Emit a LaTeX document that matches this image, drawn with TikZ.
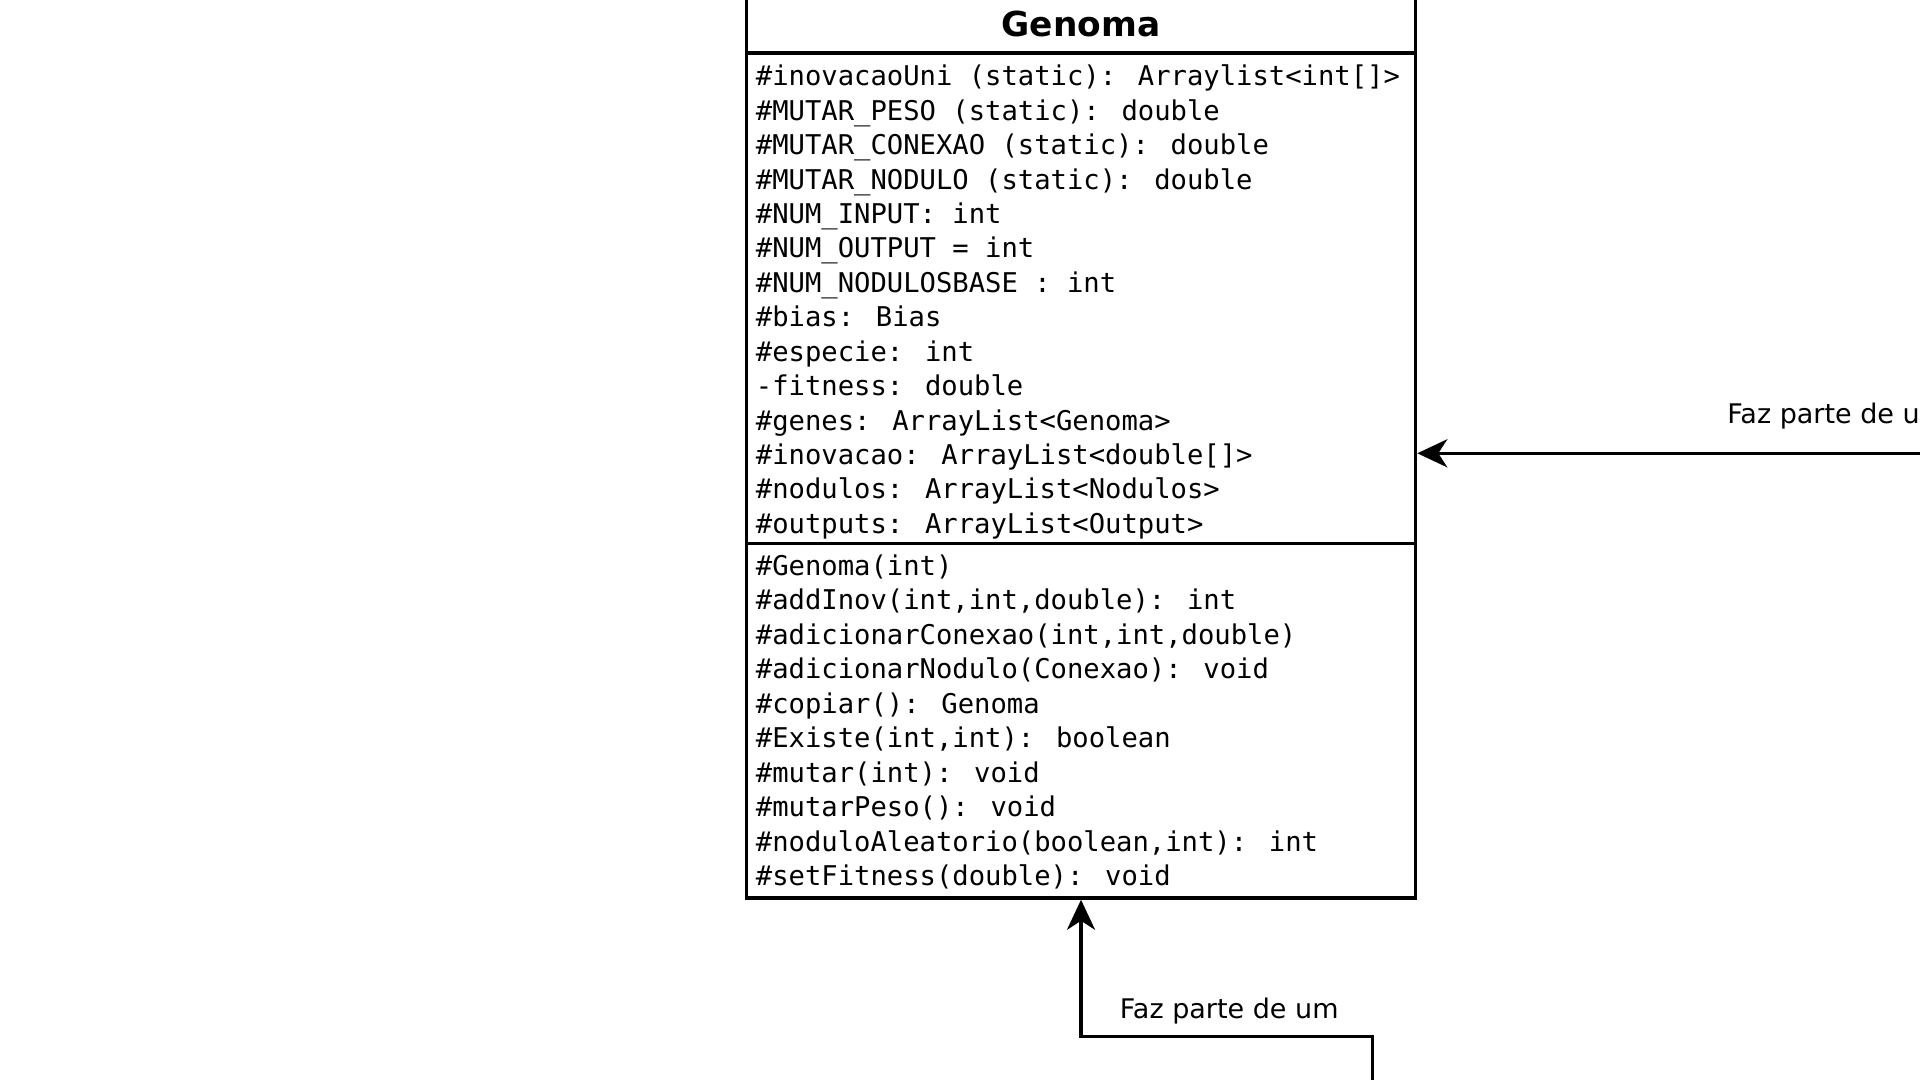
\documentclass[tikz,border=0pt]{standalone}
\usepackage{fontspec}
\setmainfont{DejaVu Sans}
\newfontfamily\umlmono{DejaVu Sans Mono}
\usetikzlibrary{arrows.meta}
\begin{document}
\begin{tikzpicture}[x=0.5pt,y=-0.5pt,
  classbox/.style={draw, line width=1.75pt, minimum width=334.5pt, minimum height=451.5pt, inner sep=0pt},
  rule/.style={line width=1.75pt},
  member/.style={anchor=base west, inner sep=0pt, font=\umlmono\fontsize{13.6pt}{16pt}\selectfont},
  classtitle/.style={anchor=base, inner sep=0pt, font=\bfseries\fontsize{17.2pt}{20pt}\selectfont},
  assoc/.style={line width=1.75pt, -{Stealth[length=15pt,width=14pt,inset=4.5pt]}},
  assoclabel/.style={anchor=base west, inner sep=0pt, font=\fontsize{13.5pt}{16pt}\selectfont}]
\useasboundingbox (0,0) rectangle (1920,1080);
\clip (0,0) rectangle (1920,1080);

% class Genoma: outer frame and compartment rules
\node[classbox] (genoma) at (1081,446.5) {};
\draw[rule] (genoma.west |- 0,53) -- (genoma.east |- 0,53);
\draw[rule] (genoma.west |- 0,543.7) -- (genoma.east |- 0,543.7);
\node[classtitle] (gtitle) at (1081,36.2) {Genoma};

% attributes
\foreach \t [count=\i from 0] in {
  {\#inovacaoUni (static): Arraylist<int[]>},
  {\#MUTAR\_PESO (static): double},
  {\#MUTAR\_CONEXAO (static): double},
  {\#MUTAR\_NODULO (static): double},
  {\#NUM\_INPUT: int},
  {\#NUM\_OUTPUT = int},
  {\#NUM\_NODULOSBASE : int},
  {\#bias: Bias},
  {\#especie: int},
  {-fitness: double},
  {\#genes: ArrayList<Genoma>},
  {\#inovacao: ArrayList<double[]>},
  {\#nodulos: ArrayList<Nodulos>},
  {\#outputs: ArrayList<Output>}}
  \node[member] (attr\i) at (755.5,{86+34.4*\i}) {\t};

% operations
\foreach \t [count=\i from 0] in {
  {\#Genoma(int)},
  {\#addInov(int,int,double): int},
  {\#adicionarConexao(int,int,double)},
  {\#adicionarNodulo(Conexao): void},
  {\#copiar(): Genoma},
  {\#Existe(int,int): boolean},
  {\#mutar(int): void},
  {\#mutarPeso(): void},
  {\#noduloAleatorio(boolean,int): int},
  {\#setFitness(double): void}}
  \node[member] (op\i) at (755.5,{575.3+34.5*\i}) {\t};

% associations coming in from the right and from below
\coordinate (rightend) at (1920,453.3);
\draw[assoc] (rightend) -- (rightend -| genoma.east);
\node[assoclabel] (rlabel) at (1727,423.5) {Faz parte de um};

\coordinate (lowend) at (1372.5,1080);
\coordinate (lowbend) at (1372.5,1036.7);
\draw[assoc] (lowend) -- (lowbend) -| (genoma.south);
\node[assoclabel] (blabel) at (1119.5,1018.8) {Faz parte de um};
\end{tikzpicture}
\end{document}
